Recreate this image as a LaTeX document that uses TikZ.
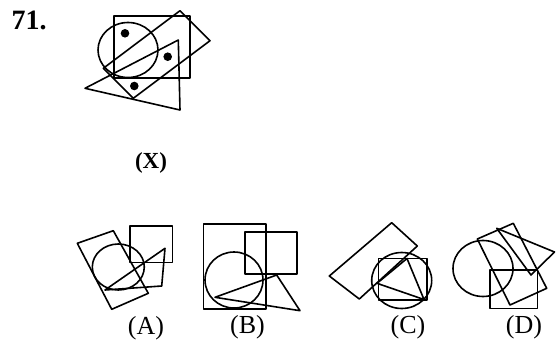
\documentclass[tikz,border=0pt]{standalone}
\usepackage{fontspec}
\setmainfont{Liberation Serif}
\begin{document}
\begin{tikzpicture}[x=1pt,y=-1pt,line join=round,
  shp/.style={draw=black,line width=1.6pt},
  dotm/.style={fill=black},
  lab/.style={font=\fontsize{26}{30}\selectfont,inner sep=0pt}]
\useasboundingbox (0,0) rectangle (556,345);
% number
\node[font=\fontsize{28}{32}\selectfont\bfseries,inner sep=0pt] (num) at (29,20) {71.};
% figure X
\draw[shp] (114,16) rectangle (190,78);
\draw[shp] (128,50) ellipse [x radius=30,y radius=27.5];
\draw[shp] (180,10.7) -- (210,40.7) -- (133.3,98.3) -- (103.3,68.3) -- cycle;
\draw[shp] (85,88.3) -- (178.3,40) -- (180,110) -- cycle;
\fill[dotm] (125,33.3) circle (4.3);
\fill[dotm] (167.7,56.7) circle (4.3);
\fill[dotm] (134.3,86) circle (4.3);
\node[font=\fontsize{23}{27}\selectfont\bfseries,inner sep=0pt] (lx) at (151,163) {(X)};
% figure A
\draw[shp] (130,226) rectangle (172.3,262.3);
\draw[shp] (118.3,267) ellipse [x radius=26,y radius=23];
\draw[shp] (77.3,243.3) -- (113.3,230.7) -- (148.3,293.3) -- (111.7,309.3) -- cycle;
\draw[shp] (105,290) -- (165,248.3) -- (161.7,286) -- cycle;
\node[lab] (la) at (146,328) {(A)};
% figure B
\draw[shp] (203.3,224) rectangle (265.7,309);
\draw[shp] (245,231.7) rectangle (296.7,274);
\draw[shp] (234,280) ellipse [x radius=29,y radius=28];
\draw[shp] (215,297.3) -- (276.7,275) -- (300,310.7) -- cycle;
\node[lab] (lb) at (247.5,327) {(B)};
% figure C
\draw[shp] (329.3,276) -- (391.7,222.7) -- (417.3,246) -- (359.3,299) -- cycle;
\draw[shp] (401.7,280.5) ellipse [x radius=30,y radius=28];
\draw[shp] (378.5,258.5) rectangle (427,300);
\draw[shp] (377,283.3) -- (407,258.5) -- (424,299.5) -- cycle;
\node[lab] (lc) at (408,327) {(C)};
% figure D
\draw[shp] (483,268.5) ellipse [x radius=30,y radius=28];
\draw[shp] (490,270) rectangle (537.3,308.3);
\draw[shp] (477.3,239) -- (513.3,223.3) -- (546.7,288.3) -- (510,305) -- cycle;
\draw[shp] (496.7,228.3) -- (554.5,252) -- (531,275) -- cycle;
\node[lab] (ld) at (524,327) {(D)};
\end{tikzpicture}
\end{document}
